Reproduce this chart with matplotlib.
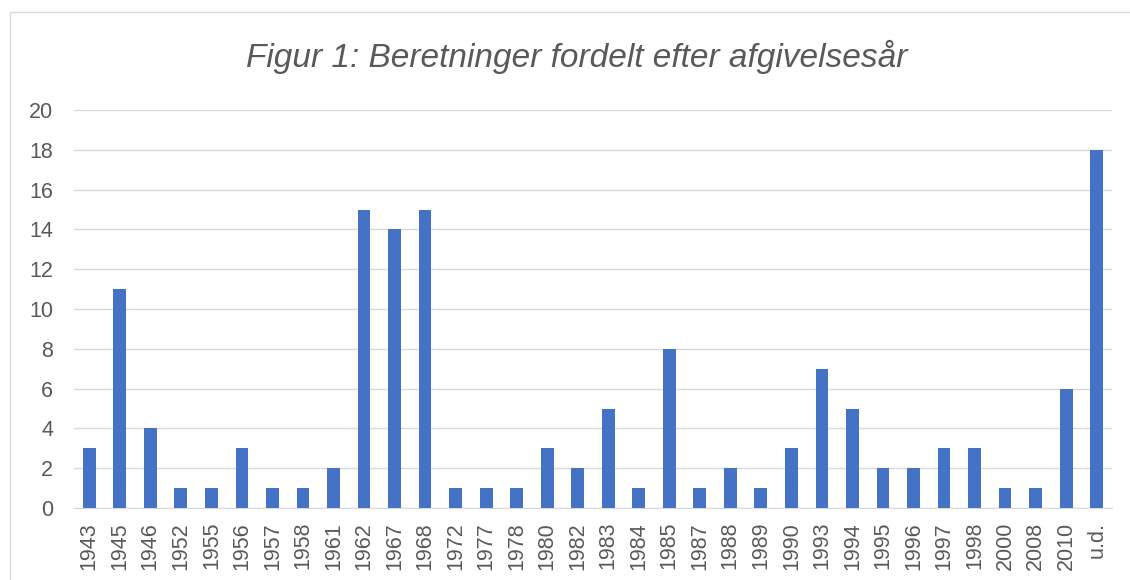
import matplotlib
matplotlib.use('Agg')
import matplotlib.pyplot as plt
from matplotlib.patches import Rectangle

# Data
years = ['1943', '1945', '1946', '1952', '1955', '1956', '1957', '1958', '1961', '1962',
         '1967', '1968', '1972', '1977', '1978', '1980', '1982', '1983', '1984', '1985',
         '1987', '1988', '1989', '1990', '1993', '1994', '1995', '1996', '1997', '1998',
         '2000', '2008', '2010', 'u.d.']
counts = [3, 11, 4, 1, 1, 3, 1, 1, 2, 15,
          14, 15, 1, 1, 1, 3, 2, 5, 1, 8,
          1, 2, 1, 3, 7, 5, 2, 2, 3, 3,
          1, 1, 6, 18]
yticks = [0, 2, 4, 6, 8, 10, 12, 14, 16, 18, 20]

plt.rcParams['font.family'] = ['Liberation Sans', 'DejaVu Sans']
text_color = '#595959'

fig = plt.figure(figsize=(11.3, 5.8), dpi=100)
# light frame around the chart area
fig.patches.append(Rectangle((10 / 1130, -0.1), 1.2, 1 - 12 / 580 + 0.1,
                             transform=fig.transFigure, fill=False,
                             edgecolor='#d9d9d9', linewidth=1))

ax = fig.add_axes([0.0655, 0.1241, 0.9185, 0.6862])
x = range(len(years))
ax.bar(x, counts, width=0.42, color='#4472c4', zorder=3)

ax.set_xlim(-0.5, len(years) - 0.5)
ax.set_ylim(0, 20)
ax.set_yticks(yticks)
ax.set_xticks(list(x))
ax.set_xticklabels(years, rotation=90)
ax.tick_params(axis='both', length=0, colors=text_color, labelsize=15.5)
ax.tick_params(axis='y', pad=15)
ax.tick_params(axis='x', pad=10)

ax.grid(axis='y', color='#d9d9d9', linewidth=1, zorder=0)
for side in ['top', 'right', 'left']:
    ax.spines[side].set_visible(False)
ax.spines['bottom'].set_color('#d9d9d9')

fig.text(0.5105, 1 - 57 / 580, 'Figur 1: Beretninger fordelt efter afgivelsesår',
         ha='center', va='center', fontsize=24, style='italic', color=text_color)

fig.savefig('out.png', dpi=100)
